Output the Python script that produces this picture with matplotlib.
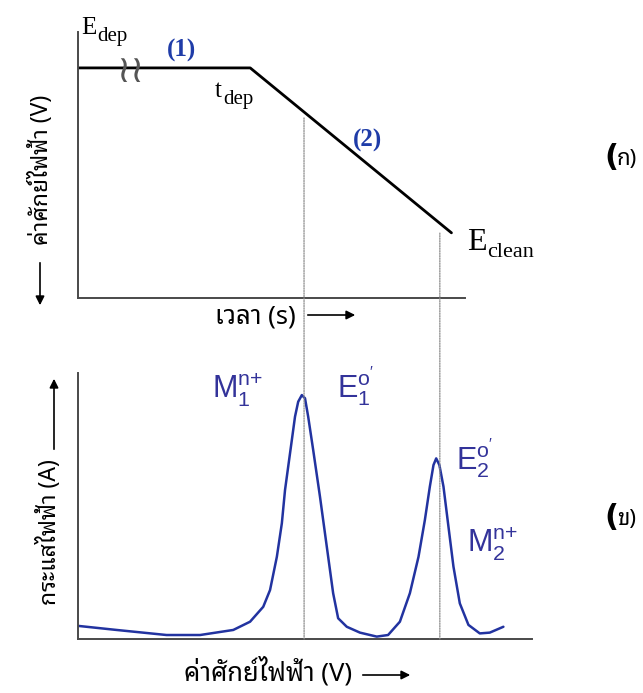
import matplotlib
matplotlib.use('Agg')
import matplotlib.pyplot as plt
from matplotlib.patches import ConnectionPatch, FancyArrowPatch
from matplotlib import font_manager
from matplotlib.ft2font import FT2Font

# --- data (arbitrary units 0..10) ---
# (ก) potential programme: deposition then linear scan
t_prog = [0.0, 4.45, 9.65]
E_prog = [8.65, 8.65, 2.45]

# (ข) stripping voltammogram
E_scan = [0.02, 0.85, 1.95, 2.69, 3.42, 3.79, 4.08, 4.23, 4.38, 4.49, 4.56, 4.63,
          4.71, 4.78, 4.85, 4.93, 5.00, 5.07, 5.18, 5.33, 5.48, 5.62, 5.73, 5.92,
          6.21, 6.58, 6.83, 7.09, 7.31, 7.50, 7.64, 7.75, 7.83, 7.89, 7.96, 8.05,
          8.16, 8.27, 8.41, 8.60, 8.85, 9.07, 9.37]
i_scan = [0.49, 0.34, 0.15, 0.15, 0.34, 0.65, 1.21, 1.84, 3.09, 4.35, 5.60, 6.48,
          7.48, 8.36, 8.92, 9.17, 9.05, 8.36, 7.11, 5.35, 3.47, 1.72, 0.78, 0.46,
          0.24, 0.09, 0.15, 0.65, 1.72, 3.09, 4.47, 5.73, 6.54, 6.79, 6.54, 5.73,
          4.22, 2.72, 1.34, 0.53, 0.21, 0.24, 0.46]

# guide lines: where each peak sits on the top (time) and bottom (potential) axes
guide_t = [5.84, 9.35]
guide_Etop = [6.77, 2.44]
guide_Epk = [4.98, 7.97]

W, H = 643, 693


def thai_fonts():
    names = []
    for f in font_manager.fontManager.ttflist:
        try:
            if ord('ก') in FT2Font(f.fname).get_charmap() and f.name not in names:
                names.append(f.name)
        except Exception:
            pass
    return names


found = thai_fonts()
thai = found[0] if found else 'DejaVu Sans'
for pref in ['Tahoma', 'Noto Sans Thai Looped', 'IBM Plex Sans Thai Looped',
             'Waree', 'Garuda', 'Loma']:
    if pref in found:
        thai = pref
        break

plt.rcParams['font.family'] = [thai, 'DejaVu Sans']
plt.rcParams['mathtext.fontset'] = 'custom'
plt.rcParams['mathtext.rm'] = 'Liberation Serif'
plt.rcParams['mathtext.sf'] = 'Liberation Sans'


def fp(x, y):
    return x / W, 1 - y / H


fig = plt.figure(figsize=(W / 100, H / 100), dpi=100)
ax1 = fig.add_axes([78 / W, 1 - 298 / H, 387 / W, 266 / H])
ax2 = fig.add_axes([78 / W, 1 - 639 / H, 454 / W, 266 / H])

for ax in (ax1, ax2):
    ax.set_xlim(0, 10)
    ax.set_ylim(0, 10)
    ax.set_xticks([])
    ax.set_yticks([])
    ax.patch.set_alpha(0)
    for s in ('top', 'right'):
        ax.spines[s].set_visible(False)
    for s in ('left', 'bottom'):
        ax.spines[s].set_color('#4a4a4a')
        ax.spines[s].set_linewidth(1.4)

ax1.plot(t_prog, E_prog, color='black', lw=2.0, solid_capstyle='round')
ax2.plot(E_scan, i_scan, color='#2233a0', lw=1.8, solid_joinstyle='round',
         solid_capstyle='round')

for t, e0, ep in zip(guide_t, guide_Etop, guide_Epk):
    cp = ConnectionPatch(xyA=(t, e0), coordsA=ax1.transData,
                         xyB=(ep, 0), coordsB=ax2.transData,
                         color='#8a8a8a', lw=0.9, linestyle=(0, (1, 1)))
    fig.add_artist(cp)

# labels on the top panel (serif, subscripts drawn as separate text)
serif = 'Liberation Serif'
fig.text(*fp(81, 34), 'E', fontsize=18, family=serif)
fig.text(*fp(97, 41), 'dep', fontsize=15, family=serif)
fig.text(*fp(215, 97), 't', fontsize=18, family=serif)
fig.text(*fp(223, 104), 'dep', fontsize=15, family=serif)
fig.text(*fp(467, 250), 'E', fontsize=23, family=serif)
fig.text(*fp(487, 257), 'clean', fontsize=16, family=serif)
fig.text(*fp(182, 50), '(1)', fontsize=18, color='#1f3ca8', fontweight='bold',
         family=serif, ha='center', va='center')
fig.text(*fp(368, 140), '(2)', fontsize=18, color='#1f3ca8', fontweight='bold',
         family=serif, ha='center', va='center')
fig.text(*fp(130, 72), '≀≀', fontsize=27, color='#555555', family='DejaVu Sans',
         ha='center', va='center')

# labels on the bottom panel
blue = '#33339a'
fig.text(*fp(212, 398), r'$\mathsf{M_1^{n{+}}}$', fontsize=22, color=blue)
fig.text(*fp(337, 398), r"$\mathsf{E_1^{o'}}$", fontsize=22, color=blue)
fig.text(*fp(456, 470), r"$\mathsf{E_2^{o'}}$", fontsize=22, color=blue)
fig.text(*fp(467, 552), r'$\mathsf{M_2^{n{+}}}$', fontsize=22, color=blue)

# panel tags
for y, ch in [(158, 'ก'), (518, 'ข')]:
    fig.text(*fp(611, y), '(', fontsize=22, fontweight='bold', family='DejaVu Sans',
             ha='center', va='center')
    fig.text(*fp(617, y + 2), ch + ')', fontsize=16, ha='left', va='center')

# axis titles with arrows
fig.text(*fp(41, 170), 'ค่าศักย์ไฟฟ้า (V)', fontsize=16.5, rotation=90,
         ha='center', va='center')
fig.text(*fp(255, 317), 'เวลา (s)', fontsize=18.5, ha='center', va='center')
fig.text(*fp(49, 532), 'กระแสไฟฟ้า (A)', fontsize=16.5, rotation=90,
         ha='center', va='center')
fig.text(*fp(268, 672), 'ค่าศักย์ไฟฟ้า (V)', fontsize=18.5, ha='center', va='center')

arrow = dict(arrowstyle='-|>', color='black', lw=1.2, mutation_scale=13)
for start, end in [((40, 260), (40, 308)), ((305, 315), (358, 315)),
                   ((54, 452), (54, 376)), ((360, 675), (413, 675))]:
    fig.add_artist(FancyArrowPatch(fp(*start), fp(*end),
                                   transform=fig.transFigure, **arrow))

fig.savefig('out.png', dpi=100)
